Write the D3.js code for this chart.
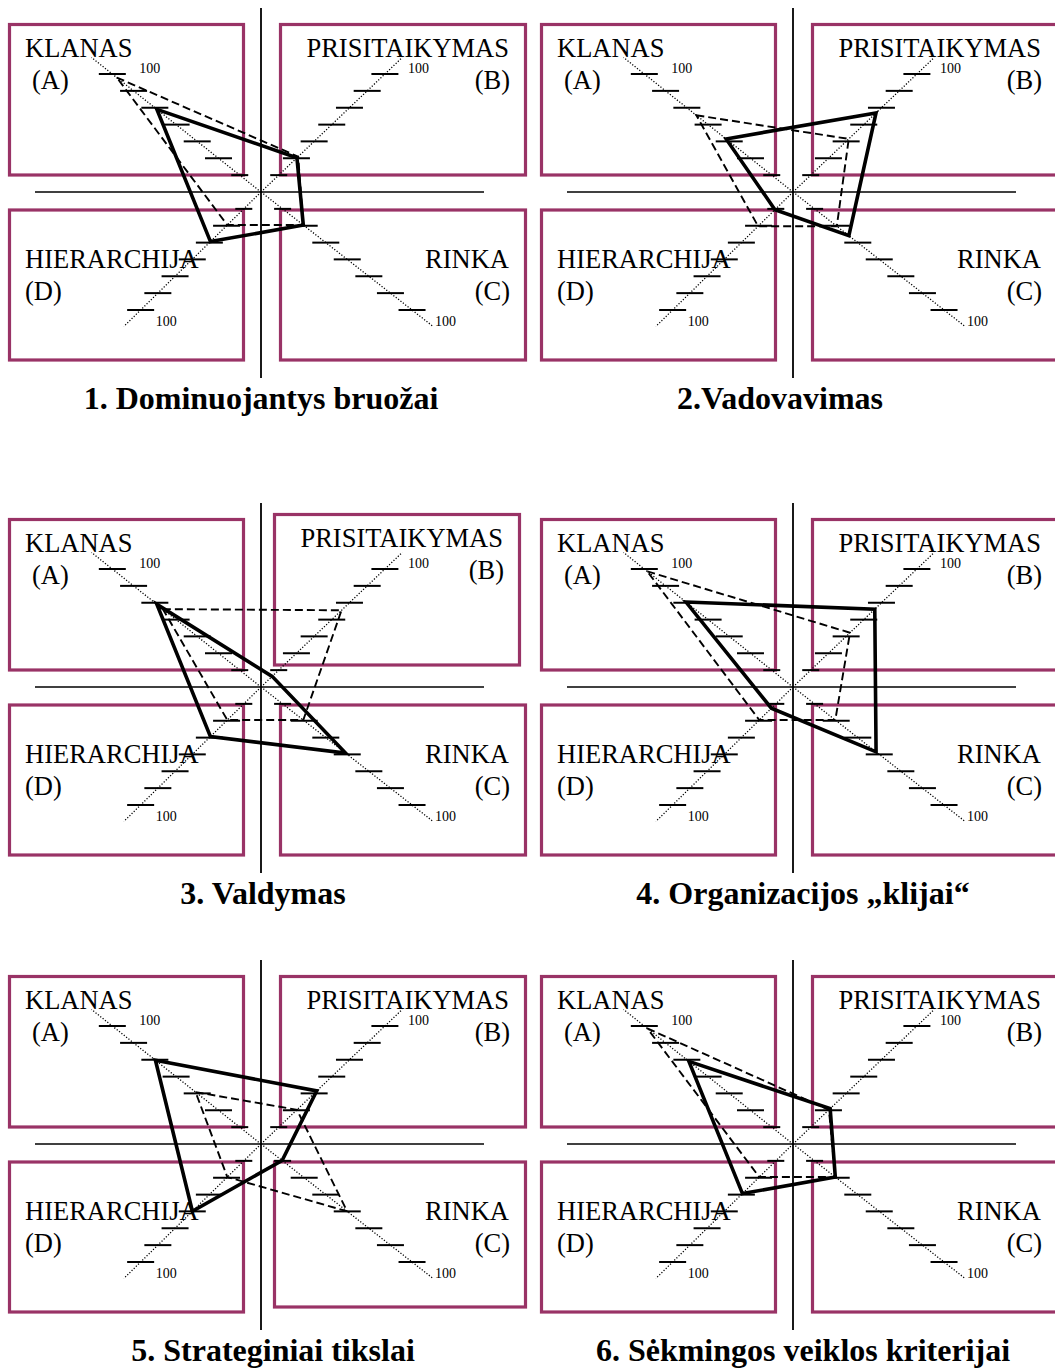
<!DOCTYPE html>
<html>
<head>
<meta charset="utf-8">
<script src="https://cdn.jsdelivr.net/npm/d3@7"></script>
<style>
  body { margin: 0; background: #fff; }
  svg { display: block; }
</style>
</head>
<body>
<div id="chart"></div>
<script>
const width = 1055,
      height = 1369;

// quadrant order: A (top left), B (top right), C (bottom right), D (bottom left)
const quadrantNames = ["KLANAS", "PRISITAIKYMAS", "RINKA", "HIERARCHIJA"];
const quadrantCodes = ["(A)", "(B)", "(C)", "(D)"];

const titles = [
  "1. Dominuojantys bruožai",
  "2.Vadovavimas",
  "3. Valdymas",
  "4. Organizacijos „klijai“",
  "5. Strateginiai tikslai",
  "6. Sėkmingos veiklos kriterijai"
];

const tickValues = [14.3, 28.6, 42.9, 57.1, 71.4, 85.7, 100];
const tickLabel = "100";

// solid profile, values for A, B, C, D
const currentValues = [
  [70, 29, 28, 42],
  [45, 67, 37, 15],
  [70, 9, 56, 42],
  [72, 66, 55, 18],
  [71, 45, 14, 57],
  [70, 30, 28, 42]
];

// dashed profile, values for A, B, C, D
const preferredValues = [
  [97, 30, 28, 28],
  [65, 45, 29, 29],
  [66, 65, 28, 28],
  [98, 46, 28, 28],
  [44, 29, 57, 28],
  [98, 29, 28, 28]
];

const boxColor = "#993366";

// each axis runs from the centre, dx per unit of dy
const dirs = [[-1.26, -1], [1.05, -1], [1.28, 1], [-1.02, 1]];

const r = d3.scaleLinear().domain([0, 100]).range([0, 118]);

function pt(i, v) {
  return [dirs[i][0] * r(v), dirs[i][1] * r(v)];
}

// panel centres (crossing of the two lines)
const panels = [
  {cx: 261, cy: 192, tx: 261},
  {cx: 793, cy: 192, tx: 780},
  {cx: 261, cy: 687, tx: 263},
  {cx: 793, cy: 687, tx: 803},
  {cx: 261, cy: 1144, tx: 273},
  {cx: 793, cy: 1144, tx: 803}
];

// boxes relative to centre: x0, y0, x1, y1
const boxes = [
  [-251.5, -167.5, -17.5, -17],
  [19.5, -167.5, 264.5, -17],
  [19.5, 18, 264.5, 168],
  [-251.5, 18, -17.5, 168]
];

let svg = d3.select("#chart")
  .append("svg")
  .attr("width", width)
  .attr("height", height);

const line = d3.line().curve(d3.curveLinearClosed);
const serif = "'Liberation Serif', 'Times New Roman', serif";

panels.forEach((p, k) => {
  let g = svg.append("g")
    .attr("transform", `translate(${p.cx},${p.cy})`);

  // little hand-made shifts in the original
  const boxShift = boxes.map(() => [0, 0, 0, 0]);
  const labelShift = [[0, 0], [0, 0], [0, 0], [0, 0]];
  if (k === 2) { boxShift[1] = [-6, -5, -6, -5]; labelShift[1] = [-6, -5]; }
  if (k === 4) { boxShift[2] = [-6, 0, 0, -5]; }

  boxes.forEach((b, i) => {
    const s = boxShift[i];
    g.append("rect")
      .attr("x", b[0] + s[0])
      .attr("y", b[1] + s[1])
      .attr("width", (b[2] + s[2]) - (b[0] + s[0]))
      .attr("height", (b[3] + s[3]) - (b[1] + s[1]))
      .attr("fill", "none")
      .attr("stroke", boxColor)
      .attr("stroke-width", 3.2);
  });

  // quadrant names
  const nameX = [-236, 248, 248, -236];
  const nameY = [-135, -135, 76, 76];
  const codeX = [-229, 249, 249, -236];
  const codeY = [-103, -103, 108, 108];
  const anchor = ["start", "end", "end", "start"];
  quadrantNames.forEach((n, i) => {
    g.append("text")
      .attr("x", nameX[i] + labelShift[i][0])
      .attr("y", nameY[i] + labelShift[i][1])
      .attr("text-anchor", anchor[i])
      .attr("font-family", serif)
      .attr("font-size", 26.5)
      .text(n);
    g.append("text")
      .attr("x", codeX[i] + labelShift[i][0])
      .attr("y", codeY[i] + labelShift[i][1])
      .attr("text-anchor", anchor[i])
      .attr("font-family", serif)
      .attr("font-size", 26.5)
      .text(quadrantCodes[i]);
  });

  // cross lines
  g.append("line")
    .attr("x1", -226).attr("x2", 223)
    .attr("y1", 0).attr("y2", 0)
    .attr("stroke", "#000").attr("stroke-width", 1.6);
  g.append("line")
    .attr("x1", 0).attr("x2", 0)
    .attr("y1", -184).attr("y2", 186)
    .attr("stroke", "#000").attr("stroke-width", 1.8);

  // dotted axes with ticks
  dirs.forEach((d, i) => {
    const end = pt(i, 114);
    g.append("line")
      .attr("x1", 0).attr("y1", 0)
      .attr("x2", end[0]).attr("y2", end[1])
      .attr("stroke", "#000")
      .attr("stroke-width", 1.3)
      .attr("stroke-dasharray", "1.2,1.8");

    g.selectAll(null)
      .data(tickValues)
      .join("line")
      .attr("x1", (t, j) => pt(i, t)[0] - (j === 0 ? 8.5 : 13.5))
      .attr("x2", (t, j) => pt(i, t)[0] + (j === 0 ? 8.5 : 13.5))
      .attr("y1", t => pt(i, t)[1])
      .attr("y2", t => pt(i, t)[1])
      .attr("stroke", "#000")
      .attr("stroke-width", 2);

    const lp = pt(i, 100);
    const off = [[27, -1], [23, -1], [23, 16], [15, 16]][i];
    g.append("text")
      .attr("x", lp[0] + off[0])
      .attr("y", lp[1] + off[1])
      .attr("font-family", serif)
      .attr("font-size", 14)
      .text(tickLabel);
  });

  // preferred profile (dashed)
  g.append("path")
    .attr("d", line(preferredValues[k].map((v, i) => pt(i, v))))
    .attr("fill", "none")
    .attr("stroke", "#000")
    .attr("stroke-width", 1.9)
    .attr("stroke-dasharray", "8,4");

  // current profile (solid)
  g.append("path")
    .attr("d", line(currentValues[k].map((v, i) => pt(i, v))))
    .attr("fill", "none")
    .attr("stroke", "#000")
    .attr("stroke-width", 3.6)
    .attr("stroke-linejoin", "miter");

  // title
  svg.append("text")
    .attr("x", p.tx)
    .attr("y", p.cy + 217)
    .attr("text-anchor", "middle")
    .attr("font-family", serif)
    .attr("font-weight", "bold")
    .attr("font-size", 32)
    .text(titles[k]);
});
</script>
</body>
</html>
